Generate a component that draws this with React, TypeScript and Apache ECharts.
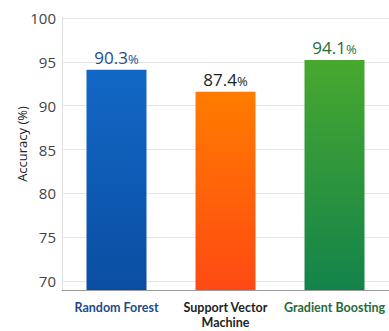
import React, { useEffect, useRef } from "react";
import * as echarts from "echarts";

const categories = ["Random Forest", "Support Vector\nMachine", "Gradient Boosting"];
const barValues = [94.1, 91.6, 95.2];
const valueLabels = ["90.3", "87.4", "94.1"];
const labelColors = ["#1d4a8c", "#1e1e1e", "#256b38"];
const topColors = ["#1268c6", "#ff7c00", "#48a82f"];
const bottomColors = ["#0a4ea2", "#ff4a14", "#13834b"];
const yTicks = [70, 75, 80, 85, 90, 95, 100];

export default function App() {
  const ref = useRef<HTMLDivElement>(null);
  useEffect(() => {
    document.body.style.margin = "0";
    document.body.style.overflow = "hidden";
    if (!ref.current) return;
    const chart = echarts.init(ref.current, undefined, { renderer: "svg" });
    const font = "'Open Sans', 'Noto Sans', sans-serif";
    const catFont = "Lato, 'Open Sans', sans-serif";
    const rich: Record<string, any> = {};
    labelColors.forEach((c, i) => {
      rich["c" + i] = {
        color: c,
        fontSize: 12.5,
        fontWeight: "bold",
        fontFamily: catFont,
        lineHeight: 15,
        align: "center",
      };
    });
    chart.setOption({
      animation: false,
      textStyle: { fontFamily: font },
      grid: { left: 62, right: 0, top: 18, bottom: 41 },
      graphic: [
        {
          type: "text",
          x: 22,
          y: 144,
          rotation: Math.PI / 2,
          style: {
            text: "Accuracy (%)",
            fontFamily: font,
            fontSize: 13,
            fill: "#222",
            align: "center",
            verticalAlign: "middle",
          },
        },
      ],
      xAxis: {
        type: "category",
        data: categories,
        axisLine: { lineStyle: { color: "#9a9a9a", width: 1 } },
        axisTick: { show: false },
        axisLabel: {
          interval: 0,
          margin: 10,
          lineHeight: 15,
          formatter: (v: string) => {
            const i = categories.indexOf(v);
            return v
              .split("\n")
              .map((line) => "{c" + i + "|" + line + "}")
              .join("\n");
          },
          rich,
        },
      },
      yAxis: {
        type: "value",
        min: 69,
        max: 100,
        interval: 1,
        axisLine: { show: true, lineStyle: { color: "#e0e0e0" } },
        axisTick: { show: false },
        splitLine: { show: false },
        axisLabel: {
          fontSize: 15,
          color: "#444",
          margin: 6,
          fontFamily: font,
          formatter: (v: number) => (yTicks.includes(v) ? String(v) : ""),
        },
      },
      series: [
        {
          type: "bar",
          barWidth: 60,
          data: barValues.map((v, i) => ({
            value: v,
            itemStyle: {
              color: new echarts.graphic.LinearGradient(0, 0, 0, 1, [
                { offset: 0, color: topColors[i] },
                { offset: 1, color: bottomColors[i] },
              ]),
            },
            label: {
              show: true,
              position: "top",
              distance: 4,
              formatter: "{n|" + valueLabels[i] + "}{p|%}",
              rich: {
                n: { fontSize: 17, color: labelColors[i], fontFamily: font },
                p: { fontSize: 13, color: labelColors[i], fontFamily: font, padding: [3, 0, 0, 0] },
              },
            },
          })),
          markLine: {
            silent: true,
            symbol: "none",
            label: { show: false },
            lineStyle: { color: "#e4e4e4", type: "solid", width: 1 },
            z: 0,
            data: yTicks.map((t) => ({ yAxis: t })),
          },
          z: 2,
        },
      ],
    });
    return () => chart.dispose();
  }, []);
  return <div ref={ref} style={{ width: 389, height: 331 }} />;
}
